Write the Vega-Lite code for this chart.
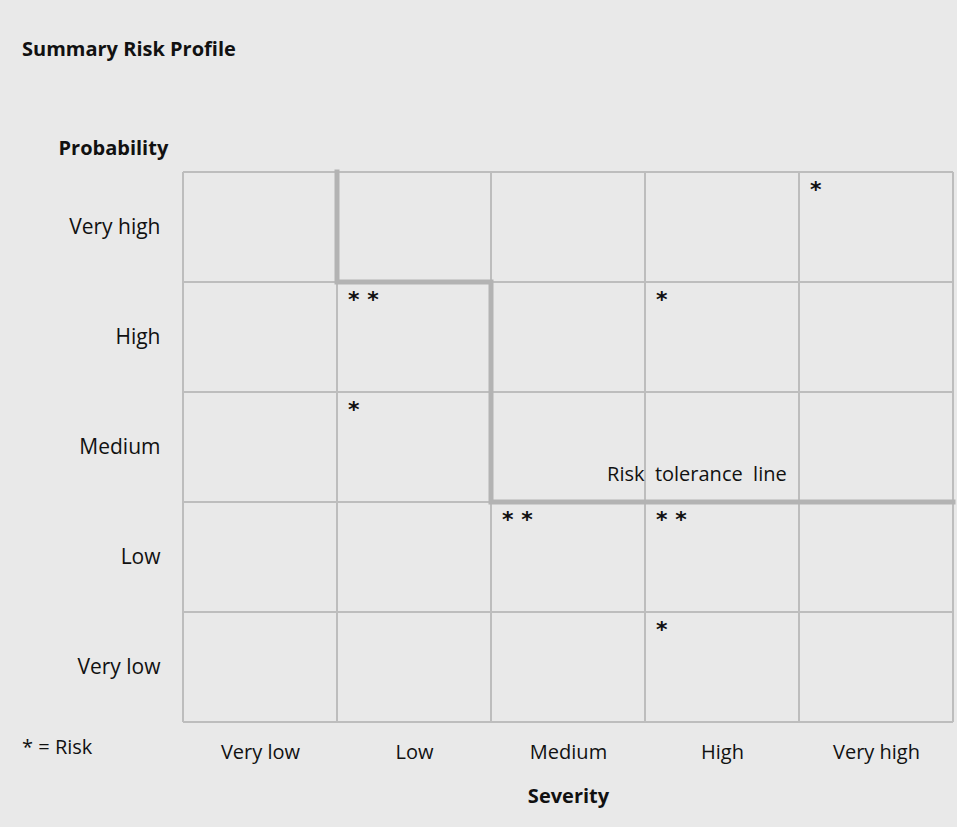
{
  "$schema": "https://vega.github.io/schema/vega-lite/v6.json",
  "width": 770,
  "height": 550,
  "autosize": {"type": "none"},
  "padding": {"left": 183, "top": 172, "right": 4, "bottom": 105},
  "background": "#e9e9e9",
  "config": {
    "view": {"stroke": null},
    "font": "Open Sans",
    "text": {"font": "Open Sans"}
  },
  "title": {
    "text": "Summary Risk Profile",
    "anchor": "start",
    "frame": "group",
    "dx": -161,
    "fontSize": 20,
    "fontWeight": "bold",
    "font": "Open Sans",
    "color": "#111111",
    "offset": 78
  },
  "layer": [
    {
      "data": {"values": [
        {"pos": 0}, {"pos": 1}, {"pos": 2}, {"pos": 3}, {"pos": 4}, {"pos": 5}
      ]},
      "mark": {"type": "rule", "color": "#bdbdbd", "strokeWidth": 2},
      "encoding": {
        "x": {
          "field": "pos", "type": "quantitative",
          "scale": {"domain": [0, 5], "nice": false, "zero": false},
          "axis": {
            "values": [0.5, 1.5, 2.5, 3.5, 4.5],
            "labelExpr": "datum.value < 1 ? 'Very low' : datum.value < 2 ? 'Low' : datum.value < 3 ? 'Medium' : datum.value < 4 ? 'High' : 'Very high'",
            "domain": false, "ticks": false, "grid": false,
            "labelFontSize": 20, "labelFont": "Open Sans", "labelColor": "#111111",
            "labelPadding": 20,
            "title": "Severity", "titleFontSize": 20, "titleFont": "Open Sans",
            "titleFontWeight": "bold", "titleColor": "#111111", "titlePadding": 24
          }
        },
        "y": {"datum": 0, "type": "quantitative"},
        "y2": {"datum": 5}
      }
    },
    {
      "data": {"values": [
        {"pos": 0}, {"pos": 1}, {"pos": 2}, {"pos": 3}, {"pos": 4}, {"pos": 5}
      ]},
      "mark": {"type": "rule", "color": "#bdbdbd", "strokeWidth": 2},
      "encoding": {
        "y": {
          "field": "pos", "type": "quantitative",
          "scale": {"domain": [0, 5], "nice": false, "zero": false},
          "axis": {
            "values": [0.5, 1.5, 2.5, 3.5, 4.5],
            "labelExpr": "datum.value < 1 ? 'Very low' : datum.value < 2 ? 'Low' : datum.value < 3 ? 'Medium' : datum.value < 4 ? 'High' : 'Very high'",
            "domain": false, "ticks": false, "grid": false,
            "labelFontSize": 21, "labelFont": "Open Sans", "labelColor": "#111111",
            "labelPadding": 23,
            "title": "Probability", "titleFontSize": 20, "titleFont": "Open Sans",
            "titleFontWeight": "bold", "titleColor": "#111111",
            "titleAngle": 0, "titleAlign": "left", "titleBaseline": "alphabetic",
            "titleX": -125, "titleY": -18
          }
        },
        "x": {"datum": 0, "type": "quantitative"},
        "x2": {"datum": 5}
      }
    },
    {
      "data": {"values": [
        {"step": 1, "sev": 1, "prob": 5},
        {"step": 2, "sev": 1, "prob": 4},
        {"step": 3, "sev": 2, "prob": 4},
        {"step": 4, "sev": 2, "prob": 2},
        {"step": 5, "sev": 5, "prob": 2}
      ]},
      "mark": {"type": "line", "color": "#b3b3b3", "strokeWidth": 5, "strokeCap": "square", "strokeJoin": "miter"},
      "encoding": {
        "x": {"field": "sev", "type": "quantitative"},
        "y": {"field": "prob", "type": "quantitative"},
        "order": {"field": "step"}
      }
    },
    {
      "data": {"values": [
        {"sev": 4, "probTop": 5, "stars": "*"},
        {"sev": 1, "probTop": 4, "stars": "* *"},
        {"sev": 3, "probTop": 4, "stars": "*"},
        {"sev": 1, "probTop": 3, "stars": "*"},
        {"sev": 2, "probTop": 2, "stars": "* *"},
        {"sev": 3, "probTop": 2, "stars": "* *"},
        {"sev": 3, "probTop": 1, "stars": "*"}
      ]},
      "mark": {"type": "text", "align": "left", "baseline": "top", "dx": 11, "dy": 8, "fontSize": 22, "fontWeight": "bold", "color": "#111111", "font": "DejaVu Sans"},
      "encoding": {
        "x": {"field": "sev", "type": "quantitative"},
        "y": {"field": "probTop", "type": "quantitative"},
        "text": {"field": "stars"}
      }
    },
    {
      "data": {"values": [
        {"sev": 3.92, "prob": 2.25, "label": "Risk\u00a0\u00a0tolerance\u00a0\u00a0line"}
      ]},
      "mark": {"type": "text", "align": "right", "baseline": "middle", "fontSize": 20, "color": "#111111", "font": "Open Sans"},
      "encoding": {
        "x": {"field": "sev", "type": "quantitative"},
        "y": {"field": "prob", "type": "quantitative"},
        "text": {"field": "label"}
      }
    },
    {
      "data": {"values": [
        {"sev": -1.045, "prob": -0.24, "label": "* = Risk"}
      ]},
      "mark": {"type": "text", "align": "left", "baseline": "middle", "fontSize": 20, "color": "#111111", "font": "Open Sans", "clip": false},
      "encoding": {
        "x": {"field": "sev", "type": "quantitative"},
        "y": {"field": "prob", "type": "quantitative"},
        "text": {"field": "label"}
      }
    }
  ]
}
